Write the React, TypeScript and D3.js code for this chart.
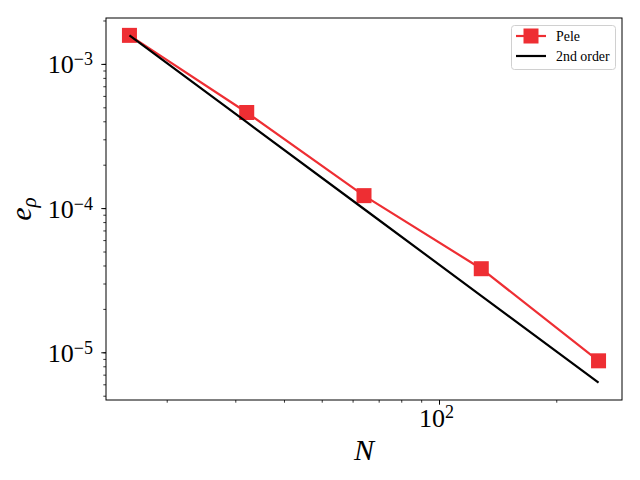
import * as React from 'react'
import * as d3 from 'd3'

// grid resolutions and density error
const resolutions = [16, 32, 64, 128, 256];
const peleError = [1.59e-3, 4.64e-4, 1.23e-4, 3.83e-5, 8.8e-6];
const yTickExps = [-3, -4, -5];
const xTickExps = [2];

const RED = '#ee2e33';
const FONT = '"Liberation Serif", "DejaVu Serif", serif';

const W = 640;
const H = 480;
const M = { left: 106, right: 622, top: 18, bottom: 400 };

const App: React.FC = () => {
  const ref = React.useRef<SVGSVGElement>(null);

  React.useEffect(() => {
    const svg = d3.select(ref.current);
    svg.selectAll('*').remove();

    // second order reference line anchored at the first point
    const secondOrder = resolutions.map(n => peleError[0] * Math.pow(resolutions[0] / n, 2));

    const lx = d3.extent(resolutions.map(Math.log10)) as [number, number];
    const allY = peleError.concat(secondOrder).map(Math.log10);
    const ly = d3.extent(allY) as [number, number];
    const px = (lx[1] - lx[0]) * 0.05;
    const py = (ly[1] - ly[0]) * 0.05;

    const x = d3.scaleLog()
      .domain([Math.pow(10, lx[0] - px), Math.pow(10, lx[1] + px)])
      .range([M.left, M.right]);
    const y = d3.scaleLog()
      .domain([Math.pow(10, ly[0] - py), Math.pow(10, ly[1] + py)])
      .range([M.bottom, M.top]);

    // minor ticks
    const [x0, x1] = x.domain();
    const [y0, y1] = y.domain();
    const xMinor: number[] = [];
    const yMinor: number[] = [];
    for (let e = -8; e <= 4; e++) {
      for (let k = 1; k < 10; k++) {
        const v = k * Math.pow(10, e);
        if (v >= x0 && v <= x1) xMinor.push(v);
        if (v >= y0 && v <= y1) yMinor.push(v);
      }
    }

    const g = svg.append('g');

    g.selectAll('line.xmin').data(xMinor).enter().append('line')
      .attr('x1', d => x(d)).attr('x2', d => x(d))
      .attr('y1', M.bottom).attr('y2', M.bottom + 2.7)
      .attr('stroke', '#000').attr('stroke-width', 0.8);
    g.selectAll('line.ymin').data(yMinor).enter().append('line')
      .attr('y1', d => y(d)).attr('y2', d => y(d))
      .attr('x1', M.left).attr('x2', M.left - 2.7)
      .attr('stroke', '#000').attr('stroke-width', 0.8);

    g.selectAll('line.xmaj').data(xTickExps).enter().append('line')
      .attr('x1', d => x(Math.pow(10, d))).attr('x2', d => x(Math.pow(10, d)))
      .attr('y1', M.bottom).attr('y2', M.bottom + 4.7)
      .attr('stroke', '#000').attr('stroke-width', 1);
    g.selectAll('line.ymaj').data(yTickExps).enter().append('line')
      .attr('y1', d => y(Math.pow(10, d))).attr('y2', d => y(Math.pow(10, d)))
      .attr('x1', M.left).attr('x2', M.left - 4.7)
      .attr('stroke', '#000').attr('stroke-width', 1);

    // tick labels 10^k
    const ylab = g.selectAll('text.ylab').data(yTickExps).enter().append('text')
      .attr('x', M.left - 13).attr('y', d => y(Math.pow(10, d)) + 9)
      .attr('text-anchor', 'end')
      .attr('font-family', FONT).attr('font-size', 26);
    ylab.append('tspan').text('10');
    ylab.append('tspan').attr('dy', -8).attr('font-size', 18).text(d => '\u2212' + Math.abs(d));

    const xlab = g.selectAll('text.xlab').data(xTickExps).enter().append('text')
      .attr('x', d => x(Math.pow(10, d)) - 3).attr('y', M.bottom + 27)
      .attr('text-anchor', 'middle')
      .attr('font-family', FONT).attr('font-size', 26);
    xlab.append('tspan').text('10');
    xlab.append('tspan').attr('dy', -9).attr('font-size', 18).text(d => String(d));

    // series
    const line = d3.line<[number, number]>().x(d => x(d[0])).y(d => y(d[1]));
    const pelePts = resolutions.map((n, i) => [n, peleError[i]] as [number, number]);
    const refPts = resolutions.map((n, i) => [n, secondOrder[i]] as [number, number]);

    g.append('path').attr('d', line(pelePts))
      .attr('fill', 'none').attr('stroke', RED).attr('stroke-width', 2.2);
    g.selectAll('rect.mk').data(pelePts).enter().append('rect')
      .attr('x', d => x(d[0]) - 7.5).attr('y', d => y(d[1]) - 7.5)
      .attr('width', 15).attr('height', 15).attr('fill', RED);
    g.append('path').attr('d', line(refPts))
      .attr('fill', 'none').attr('stroke', '#000').attr('stroke-width', 2.2);

    // frame
    g.append('rect')
      .attr('x', M.left).attr('y', M.top)
      .attr('width', M.right - M.left).attr('height', M.bottom - M.top)
      .attr('fill', 'none').attr('stroke', '#000').attr('stroke-width', 1);

    // axis labels
    g.append('text')
      .attr('x', (M.left + M.right) / 2).attr('y', 460)
      .attr('text-anchor', 'middle')
      .attr('font-family', FONT).attr('font-style', 'italic').attr('font-size', 30)
      .text('N');
    const yl = g.append('text')
      .attr('transform', `translate(31, ${(M.top + M.bottom) / 2}) rotate(-90)`)
      .attr('text-anchor', 'middle')
      .attr('font-family', FONT).attr('font-style', 'italic').attr('font-size', 30);
    yl.append('tspan').text('e');
    yl.append('tspan').attr('dy', 5).attr('font-size', 21).text('\u03c1');

    // legend
    const lg = g.append('g');
    lg.append('rect')
      .attr('x', 511.5).attr('y', 25.5).attr('width', 104).attr('height', 44)
      .attr('rx', 3).attr('fill', '#fff').attr('fill-opacity', 0.8)
      .attr('stroke', '#d0d0d0').attr('stroke-width', 1);
    lg.append('line').attr('x1', 516).attr('x2', 546).attr('y1', 36).attr('y2', 36)
      .attr('stroke', RED).attr('stroke-width', 2.2);
    lg.append('rect').attr('x', 523.5).attr('y', 28.5).attr('width', 15).attr('height', 15)
      .attr('fill', RED);
    lg.append('line').attr('x1', 516).attr('x2', 546).attr('y1', 56).attr('y2', 56)
      .attr('stroke', '#000').attr('stroke-width', 2.2);
    lg.append('text').attr('x', 556).attr('y', 40.5)
      .attr('font-family', FONT).attr('font-size', 13.9).text('Pele');
    lg.append('text').attr('x', 556).attr('y', 60.5)
      .attr('font-family', FONT).attr('font-size', 13.9).text('2nd order');
  }, []);

  return (
    <svg ref={ref} width={W} height={H}
      style={{ position: 'absolute', left: 0, top: 0, background: '#fff' }} />
  );
};

export default App;
